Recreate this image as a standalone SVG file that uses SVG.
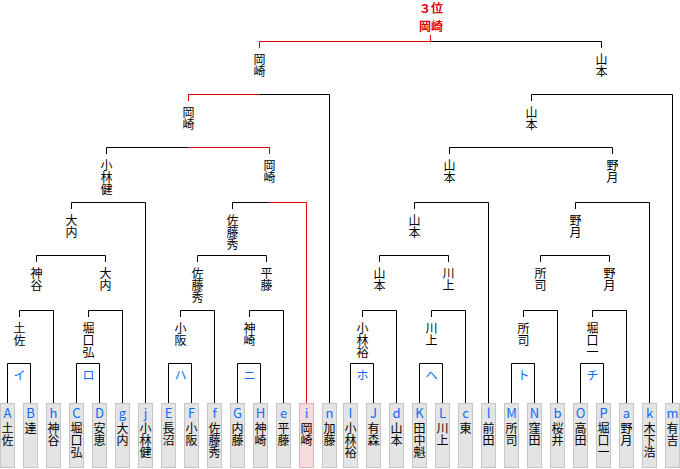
<svg xmlns="http://www.w3.org/2000/svg" width="680" height="469" viewBox="0 0 680 469">
<style>
.bk{fill:none;stroke:#000;stroke-width:1}
.rd{fill:none;stroke:#e00000;stroke-width:1}
.box{fill:#e4e4e4;stroke:#c6c6c6;stroke-width:1}
.pbox{fill:#f4dcdc;stroke:#dcb6b6;stroke-width:1}
text{font-family:"Noto Sans CJK JP","DejaVu Sans",sans-serif;text-anchor:middle}
.lt{font-size:13px;fill:#0a6cff}
.kl{font-size:12px;fill:#0a6cff}
.v{font-size:12px;fill:#000;writing-mode:vertical-rl;text-anchor:start}
.top{font-size:12px;font-weight:bold;fill:#e00000}
</style>
<rect width="680" height="469" fill="#fff"/>
<g id="connectors">
<path class="bk" d="M7.5 403V363.5H30.5V403M76.5 403V363.5H99.5V403M168.5 403V363.5H191.5V403M237.5 403V363.5H260.5V403M350.5 403V363.5H373.5V403M419.5 403V363.5H442.5V403M511.5 403V363.5H534.5V403M580.5 403V363.5H603.5V403"/>
<path class="bk" d="M19.5 317V310.5H53.5V403M88.5 317V310.5H122.5V403M180.5 317V310.5H214.5V403M249.5 317V310.5H283.5V403M362.5 317V310.5H396.5V403M431.5 317V310.5H465.5V403M523.5 317V310.5H557.5V403M592.5 317V310.5H626.5V403"/>
<path class="bk" d="M36.5 262V255.5H105.5V262M197.5 262V255.5H266.5V262M379.5 262V255.5H448.5V262M540.5 262V255.5H609.5V262"/>
<path class="bk" d="M71.5 209V202.5H145.5V403M232.5 209V202.5H269.5M414.5 209V202.5H488.5V403M575.5 209V202.5H649.5V403"/>
<path class="bk" d="M106.5 154V147.5H188.5M449.5 154V147.5H612.5V154"/>
<path class="bk" d="M259.5 94.5H329.5V403M531.5 101V94.5H672.5V403"/>
<path class="bk" d="M430.5 41.5H601.5V48"/>
<path class="rd" d="M269.5 202.5H306.5V403M188.5 147.5H269.5V154M188.5 101V94.5H259.5M259.5 48V41.5H430.5V35"/>
</g>
<g id="title"><text class="top" x="431" y="12.5">３位</text><text class="top" x="431" y="30.5">岡崎</text></g>
<g id="labels">
<text class="kl" x="19.5" y="380">イ</text>
<text class="kl" x="88.5" y="380">ロ</text>
<text class="kl" x="180.5" y="380">ハ</text>
<text class="kl" x="249.5" y="380">ニ</text>
<text class="kl" x="362.5" y="380">ホ</text>
<text class="kl" x="431.5" y="380">ヘ</text>
<text class="kl" x="523.5" y="380">ト</text>
<text class="kl" x="592.5" y="380">チ</text>
</g>
<g id="winners">
<g id="w-i"><text class="v" x="19.5" y="322">土佐</text></g>
<g id="w-ro"><text class="v" x="88.5" y="322">堀口弘</text></g>
<g id="w-ha"><text class="v" x="180.5" y="322">小阪</text></g>
<g id="w-ni"><text class="v" x="249.5" y="322">神崎</text></g>
<g id="w-ho"><text class="v" x="362.5" y="322">小林裕</text></g>
<g id="w-he"><text class="v" x="431.5" y="322">川上</text></g>
<g id="w-to"><text class="v" x="523.5" y="322">所司</text></g>
<g id="w-chi"><text class="v" x="592.5" y="322">堀口一</text></g>
<g id="w2-1"><text class="v" x="36.5" y="267">神谷</text></g>
<g id="w2-2"><text class="v" x="105.5" y="267">大内</text></g>
<g id="w2-3"><text class="v" x="197.5" y="267">佐藤秀</text></g>
<g id="w2-4"><text class="v" x="266.5" y="267">平藤</text></g>
<g id="w2-5"><text class="v" x="379.5" y="267">山本</text></g>
<g id="w2-6"><text class="v" x="448.5" y="267">川上</text></g>
<g id="w2-7"><text class="v" x="540.5" y="267">所司</text></g>
<g id="w2-8"><text class="v" x="609.5" y="267">野月</text></g>
<g id="w3-1"><text class="v" x="71.5" y="214">大内</text></g>
<g id="w3-2"><text class="v" x="232.5" y="214">佐藤秀</text></g>
<g id="w3-3"><text class="v" x="414.5" y="214">山本</text></g>
<g id="w3-4"><text class="v" x="575.5" y="214">野月</text></g>
<g id="w4-1"><text class="v" x="106.5" y="159">小林健</text></g>
<g id="w4-2"><text class="v" x="269.5" y="159">岡崎</text></g>
<g id="w4-3"><text class="v" x="449.5" y="159">山本</text></g>
<g id="w4-4"><text class="v" x="612.5" y="159">野月</text></g>
<g id="w5-1"><text class="v" x="188.5" y="106">岡崎</text></g>
<g id="w5-2"><text class="v" x="531.5" y="106">山本</text></g>
<g id="w6-1"><text class="v" x="259.5" y="53">岡崎</text></g>
<g id="w6-2"><text class="v" x="601.5" y="53">山本</text></g>
</g>
<g id="leaves">
<g id="leaf-A"><rect class="box" x="0.5" y="403.5" width="14" height="64"/><text class="lt" x="7.5" y="418">A</text><text class="v" x="7.5" y="422.5">土佐</text></g>
<g id="leaf-B"><rect class="box" x="23.5" y="403.5" width="14" height="64"/><text class="lt" x="30.5" y="418">B</text><text class="v" x="30.5" y="422.5">達</text></g>
<g id="leaf-h"><rect class="box" x="46.5" y="403.5" width="14" height="64"/><text class="lt" x="53.5" y="418">h</text><text class="v" x="53.5" y="422.5">神谷</text></g>
<g id="leaf-C"><rect class="box" x="69.5" y="403.5" width="14" height="64"/><text class="lt" x="76.5" y="418">C</text><text class="v" x="76.5" y="422.5">堀口弘</text></g>
<g id="leaf-D"><rect class="box" x="92.5" y="403.5" width="14" height="64"/><text class="lt" x="99.5" y="418">D</text><text class="v" x="99.5" y="422.5">安恵</text></g>
<g id="leaf-g"><rect class="box" x="115.5" y="403.5" width="14" height="64"/><text class="lt" x="122.5" y="418">g</text><text class="v" x="122.5" y="422.5">大内</text></g>
<g id="leaf-j"><rect class="box" x="138.5" y="403.5" width="14" height="64"/><text class="lt" x="145.5" y="418">j</text><text class="v" x="145.5" y="422.5">小林健</text></g>
<g id="leaf-E"><rect class="box" x="161.5" y="403.5" width="14" height="64"/><text class="lt" x="168.5" y="418">E</text><text class="v" x="168.5" y="422.5">長沼</text></g>
<g id="leaf-F"><rect class="box" x="184.5" y="403.5" width="14" height="64"/><text class="lt" x="191.5" y="418">F</text><text class="v" x="191.5" y="422.5">小阪</text></g>
<g id="leaf-f"><rect class="box" x="207.5" y="403.5" width="14" height="64"/><text class="lt" x="214.5" y="418">f</text><text class="v" x="214.5" y="422.5">佐藤秀</text></g>
<g id="leaf-G"><rect class="box" x="230.5" y="403.5" width="14" height="64"/><text class="lt" x="237.5" y="418">G</text><text class="v" x="237.5" y="422.5">内藤</text></g>
<g id="leaf-H"><rect class="box" x="253.5" y="403.5" width="14" height="64"/><text class="lt" x="260.5" y="418">H</text><text class="v" x="260.5" y="422.5">神崎</text></g>
<g id="leaf-e"><rect class="box" x="276.5" y="403.5" width="14" height="64"/><text class="lt" x="283.5" y="418">e</text><text class="v" x="283.5" y="422.5">平藤</text></g>
<g id="leaf-i"><rect class="pbox" x="299.5" y="403.5" width="14" height="64"/><text class="lt" x="306.5" y="418">i</text><text class="v" x="306.5" y="422.5">岡崎</text></g>
<g id="leaf-n"><rect class="box" x="322.5" y="403.5" width="14" height="64"/><text class="lt" x="329.5" y="418">n</text><text class="v" x="329.5" y="422.5">加藤</text></g>
<g id="leaf-I"><rect class="box" x="343.5" y="403.5" width="14" height="64"/><text class="lt" x="350.5" y="418">I</text><text class="v" x="350.5" y="422.5">小林裕</text></g>
<g id="leaf-J"><rect class="box" x="366.5" y="403.5" width="14" height="64"/><text class="lt" x="373.5" y="418">J</text><text class="v" x="373.5" y="422.5">有森</text></g>
<g id="leaf-d"><rect class="box" x="389.5" y="403.5" width="14" height="64"/><text class="lt" x="396.5" y="418">d</text><text class="v" x="396.5" y="422.5">山本</text></g>
<g id="leaf-K"><rect class="box" x="412.5" y="403.5" width="14" height="64"/><text class="lt" x="419.5" y="418">K</text><text class="v" x="419.5" y="422.5">田中魁</text></g>
<g id="leaf-L"><rect class="box" x="435.5" y="403.5" width="14" height="64"/><text class="lt" x="442.5" y="418">L</text><text class="v" x="442.5" y="422.5">川上</text></g>
<g id="leaf-c"><rect class="box" x="458.5" y="403.5" width="14" height="64"/><text class="lt" x="465.5" y="418">c</text><text class="v" x="465.5" y="422.5">東</text></g>
<g id="leaf-l"><rect class="box" x="481.5" y="403.5" width="14" height="64"/><text class="lt" x="488.5" y="418">l</text><text class="v" x="488.5" y="422.5">前田</text></g>
<g id="leaf-M"><rect class="box" x="504.5" y="403.5" width="14" height="64"/><text class="lt" x="511.5" y="418">M</text><text class="v" x="511.5" y="422.5">所司</text></g>
<g id="leaf-N"><rect class="box" x="527.5" y="403.5" width="14" height="64"/><text class="lt" x="534.5" y="418">N</text><text class="v" x="534.5" y="422.5">窪田</text></g>
<g id="leaf-b"><rect class="box" x="550.5" y="403.5" width="14" height="64"/><text class="lt" x="557.5" y="418">b</text><text class="v" x="557.5" y="422.5">桜井</text></g>
<g id="leaf-O"><rect class="box" x="573.5" y="403.5" width="14" height="64"/><text class="lt" x="580.5" y="418">O</text><text class="v" x="580.5" y="422.5">高田</text></g>
<g id="leaf-P"><rect class="box" x="596.5" y="403.5" width="14" height="64"/><text class="lt" x="603.5" y="418">P</text><text class="v" x="603.5" y="422.5">堀口一</text></g>
<g id="leaf-a"><rect class="box" x="619.5" y="403.5" width="14" height="64"/><text class="lt" x="626.5" y="418">a</text><text class="v" x="626.5" y="422.5">野月</text></g>
<g id="leaf-k"><rect class="box" x="642.5" y="403.5" width="14" height="64"/><text class="lt" x="649.5" y="418">k</text><text class="v" x="649.5" y="422.5">木下浩</text></g>
<g id="leaf-m"><rect class="box" x="665.5" y="403.5" width="14" height="64"/><text class="lt" x="672.5" y="418">m</text><text class="v" x="672.5" y="422.5">有吉</text></g>
</g>
</svg>
